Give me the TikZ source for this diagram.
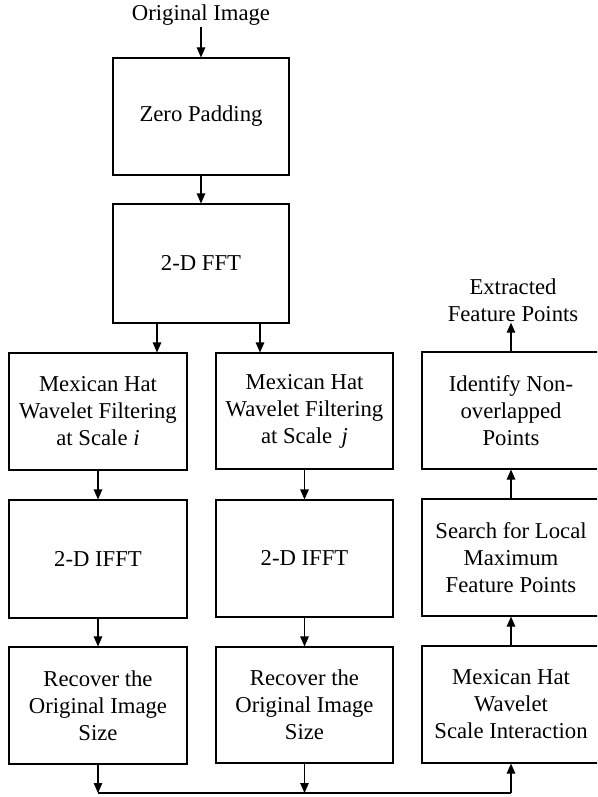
\documentclass[tikz,border=0pt]{standalone}
\usepackage{fontspec}
\setmainfont{Liberation Serif}
\usetikzlibrary{arrows.meta}
\begin{document}
\begin{tikzpicture}[x=1pt,y=-1pt,
  blk/.style={draw, line width=1.1pt, inner sep=0pt, align=center,
    font=\fontsize{22.7}{27}\selectfont},
  lbl/.style={inner sep=1pt, align=center, font=\fontsize{22.7}{27}\selectfont},
  arr/.style={line width=1.1pt, -{Triangle[length=10pt,width=8.5pt]}},
  ln/.style={line width=1.1pt}]
\useasboundingbox (0,0) rectangle (597,797);
\clip (0,0) rectangle (597,797);
% top column
\node[lbl] (orig) at (201,15) {Original Image};
\node[blk, minimum width=176pt, minimum height=117pt] (zp) at (201,116.5) {Zero Padding};
\node[blk, minimum width=176pt, minimum height=119pt] (fft) at (201,263.5) {2-D FFT};
% left column
\node[blk, minimum width=178pt, minimum height=117pt] (ml) at (98,411.5) {Mexican Hat\\Wavelet Filtering\\at Scale \textit{i}};
\node[blk, minimum width=178pt, minimum height=118pt] (il) at (98,559) {2-D IFFT};
\node[blk, minimum width=178pt, minimum height=117pt] (rl) at (98,705.5) {Recover the\\Original Image\\Size};
% middle column
\node[blk, minimum width=177pt, minimum height=116pt] (mm) at (304.5,411) {Mexican Hat\\Wavelet Filtering\\at Scale\, \textit{j}};
\node[blk, minimum width=177pt, minimum height=117pt] (im) at (304.5,558.5) {2-D IFFT};
\node[blk, minimum width=177pt, minimum height=116pt] (rm) at (304.5,705) {Recover the\\Original Image\\Size};
% right column
\node[lbl] (ext) at (513,300) {Extracted\\Feature Points};
\node[blk, minimum width=178pt, minimum height=117pt] (is) at (511,410.5) {Identify Non-\\overlapped\\Points};
\node[blk, minimum width=178pt, minimum height=117pt] (ss) at (511,557.5) {Search for Local\\Maximum\\Feature Points};
\node[blk, minimum width=178pt, minimum height=117pt] (ms) at (511,704.5) {Mexican Hat\\Wavelet\\Scale Interaction};
% connectors
\draw[arr] (orig.south) -- (zp.north);
\draw[arr] (zp.south) -- (fft.north);
\draw[arr] ([xshift=-44pt]fft.south) -- ([xshift=-44pt]fft.south |- ml.north);
\draw[arr] ([xshift=59pt]fft.south) -- ([xshift=59pt]fft.south |- mm.north);
\draw[arr] (ml.south) -- (il.north);
\draw[arr] (il.south) -- (rl.north);
\draw[arr] (mm.south) -- (im.north);
\draw[arr] (im.south) -- (rm.north);
\coordinate (b1) at (98,793);
\coordinate (b3) at (511,793);
\draw[arr] (rl.south) -- (b1);
\draw[arr] (rm.south) -- (rm.south |- b1);
\draw[ln] (b1) -- (b3);
\draw[arr] (b3) -- (ms.south);
\draw[arr] (ms.north) -- (ss.south);
\draw[arr] (ss.north) -- (is.south);
\draw[arr] (is.north) -- (is.north |- ext.south);
\end{tikzpicture}
\end{document}
